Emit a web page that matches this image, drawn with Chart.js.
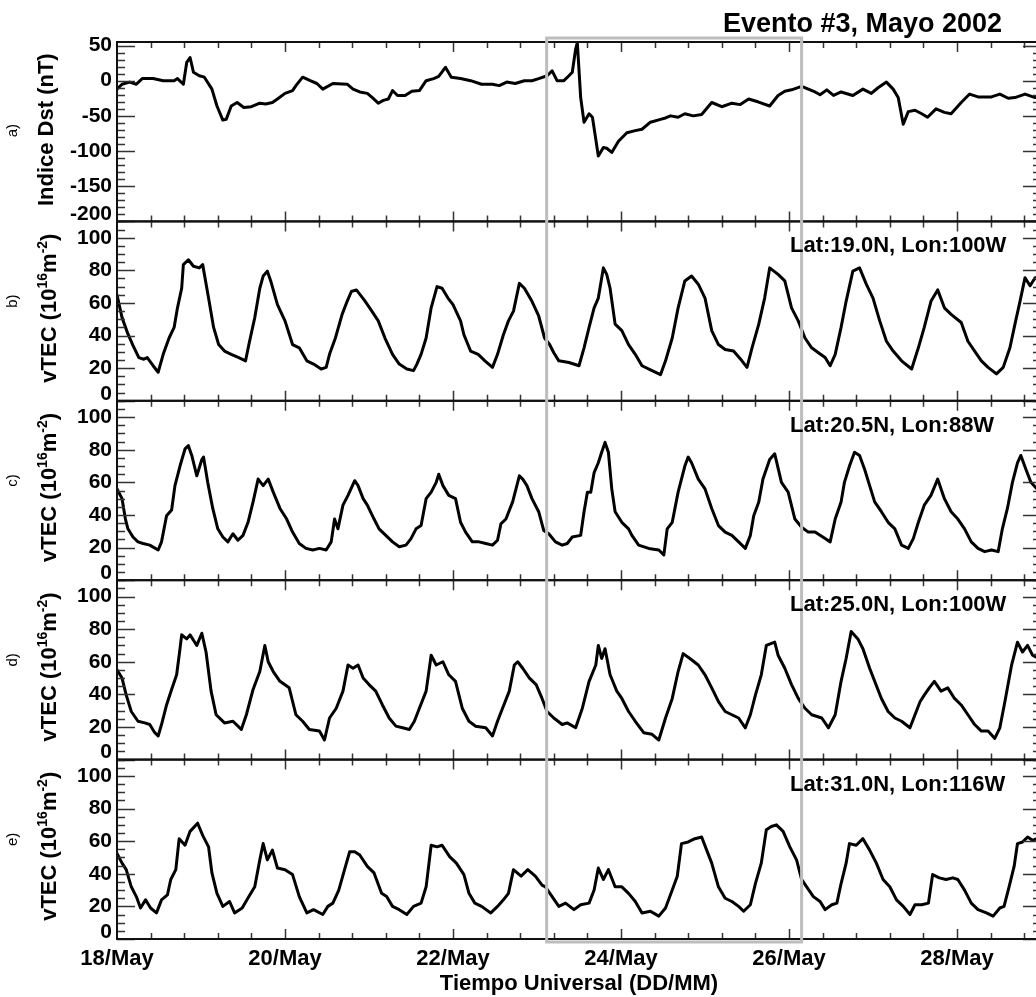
<!DOCTYPE html>
<html><head><meta charset="utf-8">
<script src="https://cdn.jsdelivr.net/npm/chart.js@4.4.1/dist/chart.umd.min.js"></script>
<style>html,body{margin:0;padding:0;overflow:hidden;background:#fff}canvas{display:block}</style>
</head><body>
<canvas id="c" width="1044" height="997"></canvas>
<script>
// ---------------- DATA ----------------
const xTickValues = [18, 20, 22, 24, 26, 28];
const xTickLabels = ['18/May', '20/May', '22/May', '24/May', '26/May', '28/May'];
const dstTicks = [50, 0, -50, -100, -150, -200];
const tecTicks = [0, 20, 40, 60, 80, 100];
const stationLabels = ['Lat:19.0N, Lon:100W', 'Lat:20.5N, Lon:88W', 'Lat:25.0N, Lon:100W', 'Lat:31.0N, Lon:116W'];
const panelLetters = ['a)', 'b)', 'c)', 'd)', 'e)'];
const eventWindow = [23.115, 26.15];   // highlighted storm interval (days of May)

// Dst index [day of May (UT), nT]
const dstIndex = [[18.00,-12],[18.06,-5],[18.15,-2],[18.23,-5],[18.30,3],[18.43,3],[18.55,0],[18.68,0],[18.72,3],[18.79,-5],[18.83,26],[18.87,33],[18.91,12],[18.98,7],[19.04,5],[19.13,-12],[19.19,-36],[19.26,-56],[19.30,-55],[19.36,-36],[19.43,-31],[19.51,-38],[19.60,-37],[19.70,-32],[19.77,-33],[19.85,-31],[19.91,-26],[20.00,-18],[20.09,-14],[20.13,-7],[20.21,5],[20.30,0],[20.38,-4],[20.45,-12],[20.57,-4],[20.74,-5],[20.81,-12],[20.89,-16],[20.98,-18],[21.04,-24],[21.11,-32],[21.17,-28],[21.23,-26],[21.28,-14],[21.34,-21],[21.43,-21],[21.51,-15],[21.60,-14],[21.68,0],[21.77,3],[21.83,6],[21.91,19],[21.98,5],[22.09,3],[22.21,0],[22.34,-5],[22.47,-5],[22.55,-7],[22.64,-2],[22.74,-4],[22.85,0],[22.94,0],[23.02,3],[23.12,7],[23.18,14],[23.24,0],[23.32,0],[23.38,7],[23.42,12],[23.46,45],[23.48,54],[23.52,-24],[23.56,-59],[23.62,-47],[23.66,-52],[23.73,-107],[23.79,-95],[23.83,-96],[23.89,-102],[23.97,-86],[24.07,-74],[24.17,-71],[24.25,-69],[24.35,-59],[24.47,-55],[24.53,-53],[24.59,-50],[24.68,-52],[24.76,-47],[24.86,-50],[24.96,-48],[25.08,-31],[25.20,-37],[25.32,-32],[25.42,-34],[25.52,-26],[25.63,-30],[25.77,-36],[25.87,-21],[25.95,-15],[26.03,-13],[26.15,-8],[26.23,-12],[26.31,-16],[26.37,-20],[26.45,-13],[26.53,-21],[26.62,-16],[26.76,-21],[26.88,-12],[26.98,-18],[27.06,-10],[27.16,-2],[27.24,-12],[27.30,-24],[27.36,-62],[27.42,-44],[27.50,-42],[27.58,-47],[27.65,-52],[27.75,-40],[27.85,-45],[27.93,-47],[28.05,-31],[28.15,-19],[28.25,-23],[28.41,-23],[28.51,-19],[28.61,-25],[28.69,-24],[28.81,-19],[28.93,-24],[29.00,-20]];

// vTEC (10^16 m^-2), Lat 19.0N Lon 100W
const tec19N = [[18.00,65],[18.06,51],[18.13,41],[18.19,34],[18.26,26.5],[18.32,25.5],[18.36,26.5],[18.43,21.5],[18.49,17.5],[18.55,28.5],[18.62,38.5],[18.68,45],[18.72,57],[18.77,69],[18.79,83.5],[18.85,86.5],[18.91,82.5],[18.98,81.5],[19.02,83.5],[19.09,63],[19.15,45],[19.21,34.5],[19.28,30.5],[19.36,28.5],[19.45,26.5],[19.53,24.5],[19.57,34.5],[19.64,51],[19.70,69],[19.74,76.5],[19.79,79.5],[19.83,73.5],[19.91,59],[20.00,49],[20.09,34.5],[20.17,32.5],[20.26,24.5],[20.34,22.5],[20.43,19.5],[20.49,20.5],[20.53,28.5],[20.60,38.5],[20.68,53],[20.74,61],[20.79,67],[20.85,68],[20.94,62],[21.02,56],[21.11,49],[21.19,38.5],[21.28,28.5],[21.36,22.5],[21.45,19.5],[21.53,18.5],[21.57,22.5],[21.62,28.5],[21.68,38.5],[21.74,57],[21.81,70],[21.87,69],[21.94,63],[22.00,59],[22.09,49],[22.13,40.5],[22.21,30.5],[22.30,28.5],[22.38,24.5],[22.47,20.5],[22.53,28.5],[22.60,40.5],[22.66,49],[22.72,55],[22.79,72],[22.85,69],[22.94,61],[23.02,52],[23.09,38.5],[23.15,34.5],[23.20,29.5],[23.26,24.5],[23.38,23.5],[23.50,21.5],[23.56,32.5],[23.62,45],[23.68,57],[23.73,63],[23.79,81.5],[23.83,77.5],[23.87,69],[23.93,47],[24.01,43],[24.09,34.5],[24.17,28.5],[24.25,21.5],[24.37,18.5],[24.47,16],[24.53,24.5],[24.61,38.5],[24.68,57],[24.76,73.5],[24.84,76.5],[24.92,71.5],[25.00,63],[25.08,43],[25.16,34.5],[25.24,31.5],[25.34,30.5],[25.44,24.5],[25.50,20.5],[25.56,32.5],[25.64,47],[25.71,63],[25.77,81.5],[25.87,77.5],[25.95,73.5],[26.03,57],[26.11,49],[26.19,38.5],[26.27,32.5],[26.35,29.5],[26.43,26.5],[26.49,21.5],[26.55,28.5],[26.62,45],[26.68,61],[26.76,79.5],[26.84,81.5],[26.92,71.5],[27.00,63],[27.08,49],[27.16,36.5],[27.24,30.5],[27.34,24.5],[27.46,19.5],[27.54,32.5],[27.61,45],[27.69,61],[27.77,68],[27.85,57],[27.93,53],[28.05,48],[28.13,36.5],[28.21,30.5],[28.29,24.5],[28.37,20.5],[28.47,16.5],[28.55,20.5],[28.63,32.5],[28.69,47],[28.75,61],[28.81,75.5],[28.87,70.5],[28.93,75.5],[29.00,74]];

// vTEC, Lat 20.5N Lon 88W
const tec20N = [[18.00,56],[18.06,50],[18.10,37.5],[18.13,31.5],[18.19,26.5],[18.25,23.5],[18.31,22.5],[18.39,21.5],[18.49,18.5],[18.53,23.5],[18.59,39.5],[18.65,43],[18.69,58],[18.75,70],[18.81,80.5],[18.85,82.5],[18.89,76.5],[18.95,64],[19.01,74],[19.03,75.5],[19.08,60],[19.14,44],[19.20,31.5],[19.26,26.5],[19.32,23.5],[19.38,28.5],[19.44,24.5],[19.50,27.5],[19.56,35.5],[19.62,48],[19.68,62],[19.74,58],[19.80,62],[19.86,54],[19.94,44],[20.02,37.5],[20.09,29.5],[20.17,22.5],[20.25,19.5],[20.33,18.5],[20.41,19.5],[20.49,18.5],[20.55,23.5],[20.59,37.5],[20.63,31.5],[20.69,46],[20.75,52],[20.83,61],[20.87,58],[20.93,50],[20.98,46],[21.06,37.5],[21.12,31.5],[21.20,27.5],[21.28,23.5],[21.36,20.5],[21.44,21.5],[21.50,25.5],[21.56,31.5],[21.62,33.5],[21.68,50],[21.74,54],[21.80,60],[21.83,65],[21.88,58],[21.95,52],[22.03,50],[22.09,35.5],[22.15,29.5],[22.23,23.5],[22.31,23.5],[22.39,22.5],[22.47,21.5],[22.53,24.5],[22.57,34.5],[22.63,37.5],[22.71,48],[22.79,64],[22.83,62],[22.88,58],[22.94,50],[23.02,42],[23.08,30.5],[23.14,28.5],[23.22,23.5],[23.30,21.5],[23.36,22.5],[23.42,26.5],[23.52,27.5],[23.56,42],[23.60,54],[23.64,54],[23.68,66],[23.73,72],[23.77,78.5],[23.81,84.5],[23.85,78.5],[23.89,56],[23.93,42],[24.01,35.5],[24.09,31.5],[24.13,27.5],[24.21,21.5],[24.33,19.5],[24.45,18.5],[24.51,15.5],[24.55,31.5],[24.61,35.5],[24.68,54],[24.76,70],[24.80,75.5],[24.84,72],[24.92,62],[25.00,56],[25.08,44],[25.16,33.5],[25.24,29.5],[25.32,27.5],[25.40,23.5],[25.48,19.5],[25.54,27.5],[25.58,39.5],[25.64,48],[25.69,62],[25.77,74],[25.83,77.5],[25.91,60],[25.99,54],[26.07,37.5],[26.15,32.5],[26.23,29.5],[26.31,29.5],[26.43,25.5],[26.49,23.5],[26.55,37.5],[26.62,48],[26.66,60],[26.72,70],[26.78,78.5],[26.84,76.5],[26.90,68],[26.96,58],[27.02,48],[27.10,42],[27.18,35.5],[27.26,31.5],[27.34,21.5],[27.42,19.5],[27.48,25.5],[27.54,35.5],[27.61,46],[27.69,52],[27.77,62],[27.85,50],[27.93,42],[28.01,37.5],[28.09,31.5],[28.17,23.5],[28.25,19.5],[28.33,17.5],[28.41,18.5],[28.49,17.5],[28.54,31.5],[28.60,44],[28.66,60],[28.72,72],[28.76,76.5],[28.82,68],[28.88,60],[28.95,56]];

// vTEC, Lat 25.0N Lon 100W
const tec25N = [[18.00,55],[18.06,50],[18.11,39.5],[18.17,29.5],[18.25,23.5],[18.33,22.5],[18.39,21.5],[18.45,16.5],[18.49,14.5],[18.53,21.5],[18.59,33.5],[18.65,43],[18.71,52],[18.75,68],[18.77,76.5],[18.83,74],[18.87,76.5],[18.95,70],[19.01,77.5],[19.06,66],[19.12,42],[19.18,27.5],[19.28,22.5],[19.38,23.5],[19.48,18.5],[19.54,27.5],[19.62,43],[19.70,54],[19.76,70],[19.80,60],[19.86,54],[19.94,48],[20.05,44],[20.13,27.5],[20.21,23.5],[20.29,18.5],[20.41,17.5],[20.47,12],[20.53,25.5],[20.61,31.5],[20.69,42],[20.75,58],[20.81,56],[20.87,58],[20.93,50],[21.00,46],[21.08,42],[21.16,33.5],[21.24,25.5],[21.32,20.5],[21.40,19.5],[21.48,18.5],[21.54,23.5],[21.60,31.5],[21.68,42],[21.74,64],[21.80,58],[21.88,60],[21.95,52],[22.03,48],[22.11,31.5],[22.19,23.5],[22.27,20.5],[22.39,19.5],[22.47,14.5],[22.53,23.5],[22.59,31.5],[22.67,42],[22.73,58],[22.77,60],[22.83,56],[22.91,50],[22.99,46],[23.06,37.5],[23.12,29.5],[23.20,25.5],[23.30,21.5],[23.36,22.5],[23.46,19.5],[23.54,31.5],[23.62,48],[23.70,58],[23.73,70],[23.77,62],[23.81,68],[23.87,52],[23.95,42],[24.01,37.5],[24.09,29.5],[24.17,23.5],[24.27,16.5],[24.37,15.5],[24.45,12],[24.53,25.5],[24.61,37.5],[24.68,54],[24.74,65],[24.82,62],[24.92,58],[25.00,52],[25.08,44],[25.16,35.5],[25.24,29.5],[25.32,27.5],[25.40,25.5],[25.48,19.5],[25.54,27.5],[25.60,39.5],[25.67,52],[25.73,70],[25.83,72],[25.87,64],[25.95,56],[26.03,46],[26.11,37.5],[26.19,31.5],[26.27,27.5],[26.39,25.5],[26.47,19.5],[26.55,27.5],[26.62,48],[26.68,62],[26.74,78.5],[26.82,74],[26.88,68],[26.96,56],[27.02,48],[27.10,37.5],[27.18,29.5],[27.26,25.5],[27.34,23.5],[27.44,19.5],[27.50,27.5],[27.56,35.5],[27.61,39.5],[27.67,44],[27.73,48],[27.81,42],[27.89,44],[27.97,37.5],[28.05,33.5],[28.13,27.5],[28.21,21.5],[28.29,17.5],[28.37,17.5],[28.45,13],[28.51,19.5],[28.57,35.5],[28.65,58],[28.72,72],[28.78,66],[28.84,70],[28.90,64],[28.97,62]];

// vTEC, Lat 31.0N Lon 116W
const tec31N = [[18.00,52.5],[18.06,46.5],[18.11,42.5],[18.17,32],[18.23,26],[18.28,19],[18.34,24],[18.40,19],[18.47,16],[18.53,24],[18.60,27],[18.64,36.5],[18.70,42.5],[18.74,61.5],[18.81,57.5],[18.87,66],[18.96,71],[19.02,63.5],[19.09,56.5],[19.13,40.5],[19.19,28],[19.26,20],[19.34,23],[19.40,16],[19.49,19],[19.57,26],[19.64,32],[19.70,48.5],[19.74,58.5],[19.79,48.5],[19.85,54.5],[19.91,43.5],[20.00,42.5],[20.09,39.5],[20.17,26],[20.26,16],[20.34,18],[20.45,15],[20.51,20],[20.57,22],[20.64,30],[20.72,44.5],[20.77,53.5],[20.83,53.5],[20.89,51.5],[20.98,44.5],[21.06,40.5],[21.15,28],[21.21,26],[21.28,20],[21.36,18],[21.45,15],[21.53,20],[21.62,22],[21.68,32],[21.74,57.5],[21.81,56.5],[21.87,57.5],[21.96,50.5],[22.04,46.5],[22.13,39.5],[22.19,28],[22.26,22],[22.34,20],[22.45,16],[22.53,20],[22.60,24],[22.66,28],[22.72,42.5],[22.81,38.5],[22.89,42.5],[22.98,38.5],[23.06,33],[23.10,32],[23.18,26],[23.26,20],[23.34,22],[23.44,18],[23.52,21],[23.62,22],[23.68,30],[23.73,43.5],[23.79,36.5],[23.85,42.5],[23.93,32],[24.01,32],[24.09,28],[24.17,23],[24.25,16],[24.35,17],[24.45,14],[24.53,19],[24.61,30],[24.67,38.5],[24.72,58.5],[24.80,59.5],[24.88,61.5],[24.96,62.5],[25.02,54.5],[25.08,46.5],[25.16,32],[25.24,25],[25.32,23],[25.40,20],[25.46,17],[25.54,21],[25.60,34],[25.67,46.5],[25.73,67],[25.79,69],[25.85,70],[25.93,66],[26.01,56.5],[26.09,48.5],[26.15,36.5],[26.21,32],[26.29,26],[26.37,23],[26.43,18],[26.51,21],[26.57,22],[26.62,34],[26.68,46.5],[26.72,58.5],[26.80,57.5],[26.88,61.5],[26.96,54.5],[27.04,46.5],[27.12,36.5],[27.20,32],[27.28,24],[27.36,20],[27.44,15],[27.50,21],[27.58,21],[27.66,22],[27.71,39.5],[27.79,37.5],[27.87,36.5],[27.95,37.5],[28.01,36.5],[28.09,30],[28.17,22],[28.25,18],[28.35,16],[28.43,14],[28.51,19],[28.56,20],[28.62,32],[28.68,44.5],[28.72,58.5],[28.78,59.5],[28.84,62.5],[28.90,60.5],[28.97,62]];

// ---------------- CHART ----------------
const FONT = "'Liberation Sans', Arial, Helvetica, sans-serif";

const panels = [
  {id: 'yDst', series: dstIndex, min: -200, max: 55, ticks: dstTicks, major: 50, minor: 10, title: 'dst'},
  {id: 'y19', series: tec19N, min: 0, max: 110, ticks: tecTicks, major: 20, minor: 5, title: 'tec', station: stationLabels[0]},
  {id: 'y20', series: tec20N, min: 0, max: 110, ticks: tecTicks, major: 20, minor: 5, title: 'tec', station: stationLabels[1]},
  {id: 'y25', series: tec25N, min: 0, max: 110, ticks: tecTicks, major: 20, minor: 5, title: 'tec', station: stationLabels[2]},
  {id: 'y31', series: tec31N, min: 0, max: 110, ticks: tecTicks, major: 20, minor: 5, title: 'tec', station: stationLabels[3]}
];

function shiftBottomLabel(def) {
  return function (scale) {
    if (scale.__patched || typeof scale._computeLabelItems !== 'function') return;
    scale.__patched = true;
    const orig = scale._computeLabelItems;
    const bottom = String(def.min);
    scale._computeLabelItems = function (ca) {
      const items = orig.call(this, ca);
      items.forEach(it => {
        if (String(it.label) === bottom && it.options && it.options.translation) it.options.translation[1] -= 7;
      });
      return items;
    };
  };
}

const scales = {
  x: {
    type: 'linear', position: 'bottom', min: 18, max: 29,
    afterBuildTicks: s => { s.ticks = xTickValues.map(v => ({value: v})); },
    afterFit: s => { s.height = 58; },
    grid: {display: false, drawTicks: false}, border: {display: false},
    ticks: {autoSkip: false, maxRotation: 0, padding: 7, color: '#000',
      font: {family: FONT, weight: 'bold', size: 22},
      callback: (v, i) => xTickLabels[i]},
    title: {display: true, text: 'Tiempo Universal (DD/MM)', color: '#000',
      font: {family: FONT, weight: 'bold', size: 22}, padding: {top: 0, bottom: 0}}
  }
};
panels.forEach((p, k) => {
  scales[p.id] = {
    type: 'linear', position: 'left', stack: 'panels', stackWeight: 1, weight: 10 - k,
    min: p.min, max: p.max,
    afterBuildTicks: s => { s.ticks = p.ticks.map(v => ({value: v})); },
    afterFit: s => { s.width = 117; },
    afterUpdate: shiftBottomLabel(p),
    grid: {display: false, drawTicks: false}, border: {display: false},
    ticks: {autoSkip: false, padding: 5, color: '#000', font: {family: FONT, weight: 'bold', size: 21}}
  };
});

function drawRich(ctx, parts, bx, cy) {
  ctx.save();
  ctx.translate(bx, cy);
  ctx.rotate(-Math.PI / 2);
  let total = 0;
  parts.forEach(p => { ctx.font = p.font; p.w = ctx.measureText(p.text).width; total += p.w; });
  let x = -total / 2;
  ctx.textAlign = 'left'; ctx.textBaseline = 'alphabetic'; ctx.fillStyle = '#000';
  parts.forEach(p => { ctx.font = p.font; ctx.fillText(p.text, x, -(p.rise || 0)); x += p.w; });
  ctx.restore();
}

const framePlugin = {
  id: 'frames',
  afterDatasetsDraw(chart) {
    const {ctx, chartArea: ca, scales: sc} = chart;
    const xs = sc.x;
    ctx.save();
    ctx.lineCap = 'butt';
    panels.forEach(p => {
      const ys = sc[p.id];
      const top = ys.top, bot = ys.bottom;
      ctx.strokeStyle = '#333'; ctx.lineWidth = 1.5;
      ctx.beginPath();
      for (let v = Math.ceil(p.min / p.minor) * p.minor; v <= p.max; v += p.minor) {
        const y = Math.round(ys.getPixelForValue(v)) + 0.5;
        const len = (v % p.major === 0) ? 18 : 8;
        ctx.moveTo(ca.left, y); ctx.lineTo(ca.left + len, y);
        ctx.moveTo(ca.right, y); ctx.lineTo(ca.right - len, y);
      }
      for (let i = 1; i * 0.4 < 11; i++) {
        const v = 18 + i * 0.4;
        const isMajor = Math.abs(v - Math.round(v)) < 1e-6 && Math.round(v) % 2 === 0;
        const len = isMajor ? 10 : 6;
        const x = Math.round(xs.getPixelForValue(v)) + 0.5;
        ctx.moveTo(x, top); ctx.lineTo(x, top + len);
        ctx.moveTo(x, bot); ctx.lineTo(x, bot - len);
      }
      ctx.stroke();
      ctx.strokeStyle = '#111'; ctx.lineWidth = 2;
      ctx.strokeRect(ca.left, top, ca.right - ca.left, bot - top);
    });
    ctx.restore();
  },
  afterDraw(chart) {
    const {ctx, chartArea: ca, scales: sc} = chart;
    const xs = sc.x;
    ctx.save();
    const x0 = xs.getPixelForValue(eventWindow[0]);
    const x1 = xs.getPixelForValue(eventWindow[1]);
    ctx.strokeStyle = '#bdbdbd'; ctx.lineWidth = 3;
    ctx.strokeRect(x0, ca.top - 4, x1 - x0, ca.bottom - ca.top + 7);

    const B22 = 'bold 22px ' + FONT, B14 = 'bold 14px ' + FONT;
    panels.forEach((p, k) => {
      const ys = sc[p.id];
      const cy = (ys.top + ys.bottom) / 2;
      if (p.title === 'dst') {
        drawRich(ctx, [{text: 'Indice Dst (nT)', font: B22}], 53, cy - 2);
      } else {
        drawRich(ctx, [
          {text: 'vTEC (10', font: B22},
          {text: '16', font: B14, rise: 9},
          {text: 'm', font: B22},
          {text: '-2', font: B14, rise: 9},
          {text: ')', font: B22}
        ], 56, cy - 3);
      }
      drawRich(ctx, [{text: panelLetters[k], font: '15px ' + FONT}], 17, cy - (k === 0 ? 1 : 10));
      if (p.station) {
        ctx.font = B22; ctx.fillStyle = '#000'; ctx.textAlign = 'left'; ctx.textBaseline = 'alphabetic';
        ctx.fillText(p.station, 790, ys.top + 31);
      }
    });
    ctx.font = 'bold 27px ' + FONT; ctx.fillStyle = '#000';
    ctx.textAlign = 'left'; ctx.textBaseline = 'alphabetic';
    ctx.fillText('Evento #3, Mayo 2002', 723, 32);
    ctx.restore();
  }
};

const datasets = panels.map(p => ({
  data: p.series.map(d => ({x: d[0], y: d[1]})),
  yAxisID: p.id, xAxisID: 'x',
  borderColor: '#000', borderWidth: 3, pointRadius: 0, tension: 0, fill: false,
  borderJoinStyle: 'round', borderCapStyle: 'round'
}));

new Chart(document.getElementById('c'), {
  type: 'line',
  data: {datasets},
  options: {
    responsive: false, animation: false,
    layout: {padding: {top: 42, right: 3, bottom: 0, left: 0}},
    plugins: {legend: {display: false}, tooltip: {enabled: false}, title: {display: false}},
    scales
  },
  plugins: [framePlugin]
});
</script>
</body></html>
